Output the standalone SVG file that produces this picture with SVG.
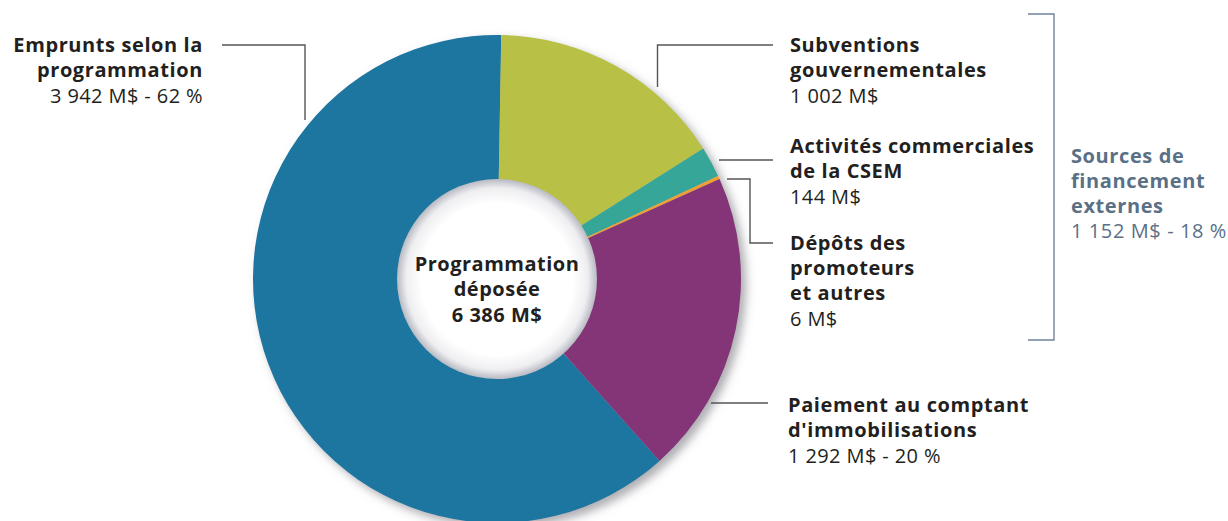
<svg xmlns="http://www.w3.org/2000/svg" width="1228" height="521" viewBox="0 0 1228 521">
<defs>
<style>
.lbl{font-family:"Open Sans","Noto Sans",sans-serif;font-size:20px;letter-spacing:0.6px;fill:#231f20}
.r{letter-spacing:0.4px}
.b{font-weight:700}
.src{font-family:"Open Sans","Noto Sans",sans-serif;font-size:20px;letter-spacing:0.6px;fill:#5a7086}
.ctr{font-family:"Open Sans","Noto Sans",sans-serif;font-size:20px;letter-spacing:0.5px;font-weight:700;fill:#231f20;text-anchor:middle}
.con{fill:none;stroke:#555;stroke-width:1.4}
.brk{fill:none;stroke:#6f8499;stroke-width:1.4}
</style>
<filter id="sh" x="-10%" y="-10%" width="125%" height="125%">
<feDropShadow dx="5" dy="5" stdDeviation="5" flood-color="#6a6a72" flood-opacity="0.55"/>
</filter>
<radialGradient id="hole" cx="0.5" cy="0.5" r="0.5">
<stop offset="0.76" stop-color="#ffffff"/>
<stop offset="0.91" stop-color="#eeeef1"/>
<stop offset="1" stop-color="#b8bac2"/>
</radialGradient>
</defs>
<rect width="1228" height="521" fill="#ffffff"/>
<g id="donut">
<g filter="url(#sh)">
<path id="seg-emprunts" fill="#1e76a0" d="M659.63,460.90 A244,244 0 1 1 501.26,35.04 L498.73,180.02 A99,99 0 1 0 562.99,352.80 Z"/>
<path id="seg-subventions" fill="#b8c045" d="M501.26,35.04 A244,244 0 0 1 703.24,148.62 L580.68,226.10 A99,99 0 0 0 498.73,180.02 Z"/>
<path id="seg-activites" fill="#35a698" d="M703.24,148.62 A244,244 0 0 1 718.14,175.88 L586.72,237.16 A99,99 0 0 0 580.68,226.10 Z"/>
<path id="seg-depots" fill="#f0a032" d="M718.14,175.88 A244,244 0 0 1 719.56,178.98 L587.30,238.42 A99,99 0 0 0 586.72,237.16 Z"/>
<path id="seg-paiement" fill="#833477" d="M719.56,178.98 A244,244 0 0 1 659.63,460.90 L562.99,352.80 A99,99 0 0 0 587.30,238.42 Z"/>
</g>
<circle cx="497" cy="279" r="100" fill="url(#hole)"/>
</g>
<g id="center-label">
<text class="ctr" x="497" y="271">Programmation</text>
<text class="ctr" x="497" y="296">déposée</text>
<text class="ctr" x="497" y="322">6 386 M$</text>
</g>
<g id="connectors">
<polyline class="con" points="222,45 305,45 305,120"/>
<polyline class="con" points="773,45 657.5,45 657.5,87"/>
<line class="con" x1="719" y1="160" x2="773" y2="160"/>
<polyline class="con" points="727,179 750,179 750,243 773,243"/>
<line class="con" x1="711" y1="403" x2="768" y2="403"/>
<polyline class="brk" points="1028,14 1054,14 1054,340 1028,340"/>
</g>
<g id="node-emprunts" text-anchor="end">
<text class="lbl b" x="203" y="52">Emprunts selon la</text>
<text class="lbl b" x="203" y="77">programmation</text>
<text class="lbl r" x="203" y="103">3 942 M$ - 62 %</text>
</g>
<g id="node-subventions">
<text class="lbl b" x="790" y="52">Subventions</text>
<text class="lbl b" x="790" y="77">gouvernementales</text>
<text class="lbl r" x="790" y="103">1 002 M$</text>
</g>
<g id="node-activites">
<text class="lbl b" x="790" y="153">Activités commerciales</text>
<text class="lbl b" x="790" y="178">de la CSEM</text>
<text class="lbl r" x="790" y="204">144 M$</text>
</g>
<g id="node-depots">
<text class="lbl b" x="790" y="250">Dépôts des</text>
<text class="lbl b" x="790" y="275">promoteurs</text>
<text class="lbl b" x="790" y="300">et autres</text>
<text class="lbl r" x="790" y="326">6 M$</text>
</g>
<g id="node-paiement">
<text class="lbl b" x="788" y="412">Paiement au comptant</text>
<text class="lbl b" x="788" y="437">d'immobilisations</text>
<text class="lbl r" x="788" y="463">1 292 M$ - 20 %</text>
</g>
<g id="node-sources">
<text class="src b" x="1071" y="163">Sources de</text>
<text class="src b" x="1071" y="188">financement</text>
<text class="src b" x="1071" y="213">externes</text>
<text class="src r" x="1071" y="238">1 152 M$ - 18 %</text>
</g>
</svg>
